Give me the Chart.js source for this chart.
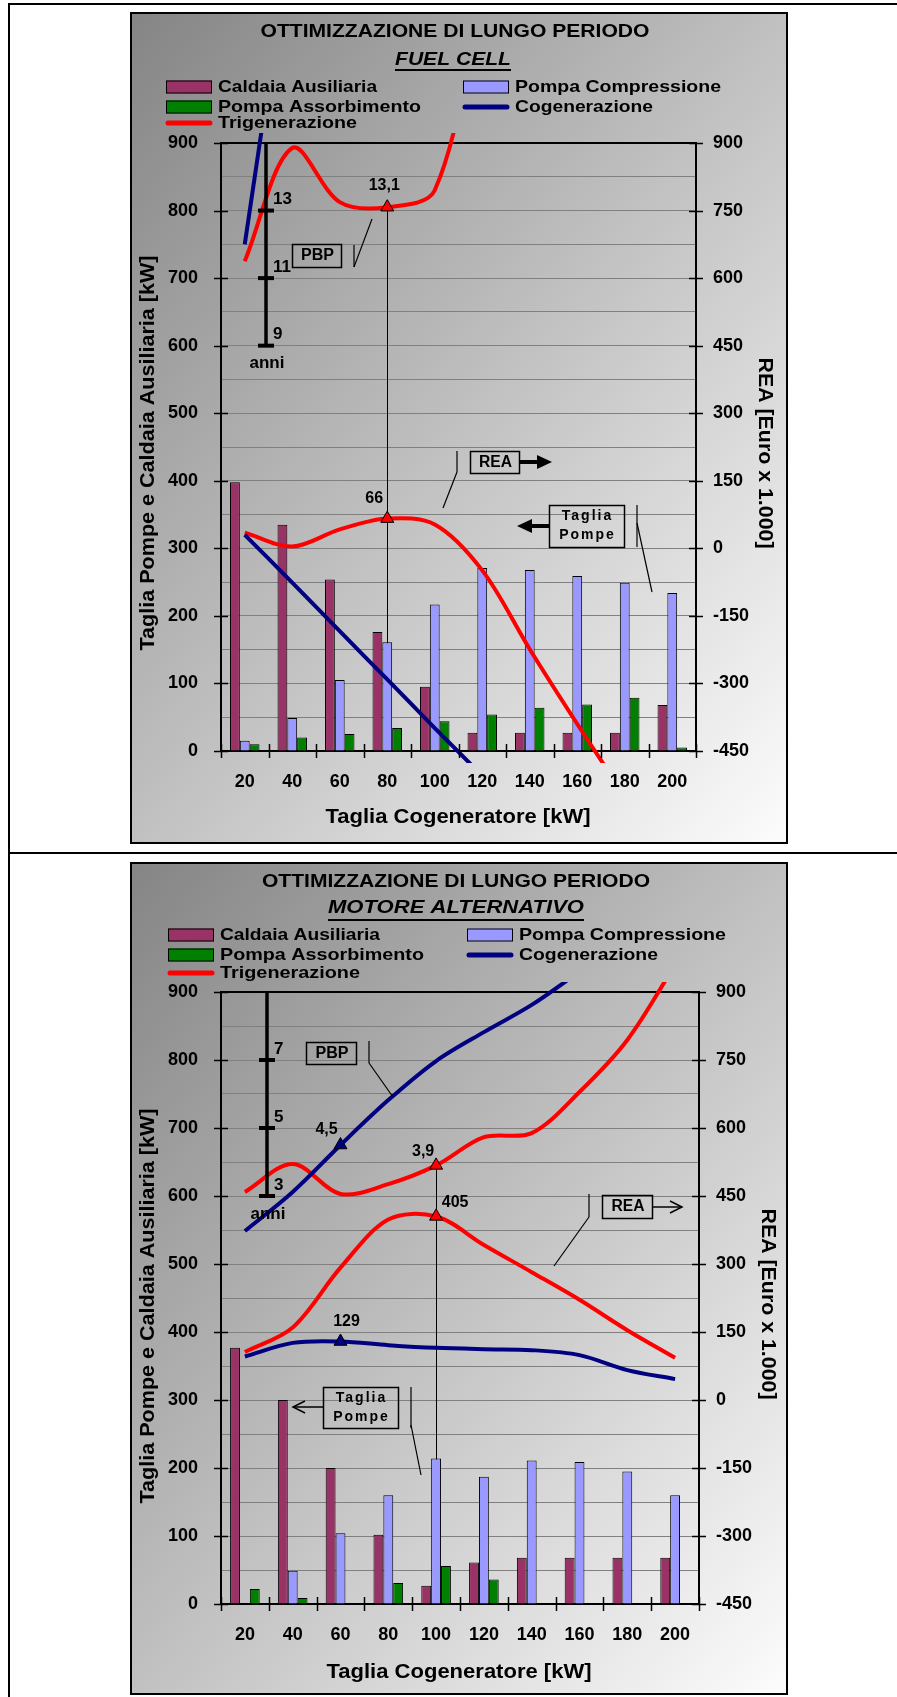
<!DOCTYPE html>
<html lang="it">
<head>
<meta charset="utf-8">
<title>Ottimizzazione di lungo periodo</title>
<script src="https://cdn.jsdelivr.net/npm/chart.js@4.4.1/dist/chart.umd.min.js"></script>
<style>
  html, body { margin: 0; padding: 0; background: #fff; }
  body { position: relative; width: 897px; height: 1697px; overflow: hidden; }
  .frame { position: absolute; left: 8px; top: 3px; width: 1000px; height: 1800px; border-left: 2px solid #000; border-top: 2px solid #000; }
  .divider { position: absolute; left: 8px; top: 852px; width: 1000px; height: 2px; background: #000; }
  .box { position: absolute; left: 130px; border: 2px solid #000; }
  .box canvas { display: block; }
</style>
</head>
<body>
<div class="frame"></div>
<div class="divider"></div>
<div class="box" style="top:12px"><canvas id="fuelCell" width="654" height="828"></canvas></div>
<div class="box" style="top:862px"><canvas id="motore" width="654" height="829"></canvas></div>

<script>
const FONT = "'Liberation Sans', Arial, Helvetica, sans-serif";
Chart.defaults.font.family = FONT;
Chart.defaults.color = '#000';

// taglia cogeneratore [kW]
const sizes = ['20', '40', '60', '80', '100', '120', '140', '160', '180', '200'];

// fuel cell: taglie pompe e caldaia [kW]
const fcCaldaia = [398, 335, 254, 176, 95, 27, 27, 27, 27, 68];
const fcCompressione = [15, 49, 105, 161, 217, 271, 268, 259, 249, 234];
const fcAssorbimento = [10, 20, 25, 34, 44, 54, 64, 69, 79, 5];
// fuel cell: REA [Euro x 1.000]
const fcReaCog = [30, -76, -184, -291, -399, -505, null, null, null, null];
const fcReaTrig = [35, 4, 42, 66, 53, -49, -224, -390, -550, null];
// fuel cell: PBP [anni]
const fcPbpCog = [12.0, 21.5, null, null, null, null, null, null, null, null];
const fcPbpTrig = [11.5, 14.85, 13.25, 13.1, 13.6, 19.5, null, null, null, null];
const fcAnni = [9, 11, 13];

// motore alternativo: taglie pompe e caldaia [kW]
const maCaldaia = [377, 300, 200, 102, 27, 61, 68, 68, 68, 68];
const maCompressione = [0, 49, 104, 160, 214, 187, 211, 209, 195, 160];
const maAssorbimento = [22, 9, 0, 31, 56, 36, 0, 0, 0, 0];
// motore alternativo: REA [Euro x 1.000]
const maReaCog = [96, 126, 129, 121, 115, 112, 110, 99, 66, 46];
const maReaTrig = [106, 160, 292, 398, 405, 342, 282, 221, 154, 93];
// motore alternativo: PBP [anni]
const maPbpCog = [1.97, 3.12, 4.5, 5.82, 6.97, 7.82, 8.62, 9.6, null, null];
const maPbpTrig = [3.12, 3.94, 3.06, 3.35, 3.9, 4.73, 4.85, 6.06, 7.59, 9.8];
const maAnni = [3, 5, 7];

const PURPLE = '#993366', LILAC = '#9999FF', GREEN = '#008000', NAVY = '#000080', RED = '#FF0000';

function drawText(ctx, text, x, y, o) {
  ctx.save();
  ctx.font = o.font + ' ' + FONT;
  if (o.spacing) ctx.letterSpacing = o.spacing + 'px';
  ctx.textAlign = o.align || 'center';
  ctx.textBaseline = 'middle';
  ctx.fillStyle = '#000';
  ctx.translate(x, y);
  if (o.rotate) ctx.rotate(o.rotate);
  if (o.width) ctx.scale(o.width / ctx.measureText(text).width, 1);
  ctx.fillText(text, 0, 0);
  ctx.restore();
}

function seg(ctx, x1, y1, x2, y2, w) {
  ctx.lineWidth = w;
  ctx.beginPath();
  ctx.moveTo(x1, y1);
  ctx.lineTo(x2, y2);
  ctx.stroke();
}

function arrow(ctx, x1, y1, x2, y2, heavy) {
  const a = Math.atan2(y2 - y1, x2 - x1);
  ctx.save();
  ctx.strokeStyle = '#000';
  ctx.fillStyle = '#000';
  if (heavy) {
    seg(ctx, x1, y1, x2 - 12 * Math.cos(a), y2 - 12 * Math.sin(a), 4);
    ctx.translate(x2, y2);
    ctx.rotate(a);
    ctx.beginPath();
    ctx.moveTo(0, 0);
    ctx.lineTo(-15, -7);
    ctx.lineTo(-15, 7);
    ctx.closePath();
    ctx.fill();
  } else {
    seg(ctx, x1, y1, x2, y2, 1.5);
    ctx.translate(x2, y2);
    ctx.rotate(a);
    ctx.lineWidth = 1.5;
    ctx.beginPath();
    ctx.moveTo(-12, -6);
    ctx.lineTo(0, 0);
    ctx.lineTo(-12, 6);
    ctx.stroke();
  }
  ctx.restore();
}

const decorations = {
  id: 'decorations',
  beforeDraw(chart) {
    const { ctx, width, height } = chart;
    ctx.save();
    ctx.scale(width, height);
    const g = ctx.createLinearGradient(0, 0, 1, 1);
    g.addColorStop(0, '#858585');
    g.addColorStop(1, '#fcfcfc');
    ctx.fillStyle = g;
    ctx.fillRect(0, 0, 1, 1);
    ctx.restore();
  },
  beforeDatasetsDraw(chart, args, s) {
    const { ctx, chartArea: area } = chart;
    const p = chart.getDatasetMeta(s.drop.ds).data[s.drop.i];
    ctx.save();
    ctx.strokeStyle = '#000';
    seg(ctx, Math.round(p.x) + 0.5, p.y, Math.round(p.x) + 0.5, area.bottom, 1);
    ctx.restore();
  },
  afterDraw(chart, args, s) {
    const { ctx, chartArea: area } = chart;
    const xs = chart.scales.x, yl = chart.scales.y, yr = chart.scales.y1, yp = chart.scales.yp;
    ctx.save();
    ctx.strokeStyle = '#000';
    ctx.fillStyle = '#000';

    // titolo
    drawText(ctx, s.title, s.titleX, s.titleY, { font: 'bold 18px', width: s.titleW });
    drawText(ctx, s.sub, s.subX, s.subY, { font: 'italic bold 18px', width: s.subW });
    ctx.fillRect(s.subX - s.subW / 2, s.underY - 1, s.subW, 2);

    // legenda a due colonne
    const seen = new Set();
    const entries = chart.data.datasets.filter(d => !seen.has(d.label) && seen.add(d.label));
    entries.forEach((d, k) => {
      const x = s.legendX[k % 2], y = s.legendY[Math.floor(k / 2)];
      if (d.type === 'bar') {
        ctx.fillStyle = d.backgroundColor;
        ctx.fillRect(x, y - 6.5, 46, 13);
        ctx.lineWidth = 1;
        ctx.strokeRect(x + 0.5, y - 6, 45, 12);
      } else {
        ctx.save();
        ctx.strokeStyle = d.borderColor;
        ctx.lineCap = 'round';
        seg(ctx, x + 2, y, x + 44, y, 5);
        ctx.restore();
      }
      drawText(ctx, d.label, x + 52, y, { font: 'bold 17px', width: s.legendW[k], align: 'left' });
    });

    // titoli degli assi
    drawText(ctx, 'Taglia Cogeneratore [kW]', s.xTitle[0], s.xTitle[1], { font: 'bold 20px', width: 265 });
    drawText(ctx, 'Taglia Pompe e Caldaia Ausiliaria [kW]', s.yTitle[0], s.yTitle[1], { font: 'bold 20px', width: 395, rotate: -Math.PI / 2 });
    drawText(ctx, 'REA [Euro x 1.000]', s.rTitle[0], s.rTitle[1], { font: 'bold 20px', width: 191, rotate: Math.PI / 2 });

    // tacche a cavallo degli assi
    ctx.strokeStyle = '#000';
    ctx.lineWidth = 1.5;
    ctx.beginPath();
    yl.ticks.forEach(t => {
      if (t.value % 100 !== 0) return;
      const y = Math.round(yl.getPixelForValue(t.value)) + 0.5;
      ctx.moveTo(area.left - 7, y);
      ctx.lineTo(area.left + 7, y);
    });
    yr.ticks.forEach(t => {
      const y = Math.round(yr.getPixelForValue(t.value)) + 0.5;
      ctx.moveTo(area.right - 7, y);
      ctx.lineTo(area.right + 7, y);
    });
    for (let i = 0; i <= sizes.length; i++) {
      const x = Math.round(xs.getPixelForValue(i - 0.5)) + 0.5;
      ctx.moveTo(x, area.bottom - 7);
      ctx.lineTo(x, area.bottom + 7);
    }
    ctx.stroke();

    // scala anni del PBP
    const ax = area.left + s.anniDx;
    const yLow = yp.getPixelForValue(s.anni[0]);
    seg(ctx, ax, area.top, ax, yLow, 3.5);
    s.anni.forEach(v => {
      const y = yp.getPixelForValue(v);
      seg(ctx, ax - 8, y, ax + 8, y, 4);
      drawText(ctx, String(v), ax + 7, y - 11, { font: 'bold 17px', align: 'left' });
    });
    drawText(ctx, 'anni', ax + 1, yLow + 18, { font: 'bold 17px' });

    // riquadri con richiamo
    s.callouts.forEach(c => {
      ctx.strokeStyle = '#000';
      ctx.lineWidth = 1.5;
      ctx.strokeRect(c.x + 0.5, c.y + 0.5, c.w, c.h);
      c.lines.forEach((t, k) => drawText(ctx, t, c.x + c.w / 2 + 1, c.y + c.ty[k], { font: c.font, width: c.tw && c.tw[k], spacing: c.spacing }));
      c.leader.forEach(l => seg(ctx, l[0], l[1], l[2], l[3], 1.2));
      if (c.arrow) arrow(ctx, c.arrow[0], c.arrow[1], c.arrow[2], c.arrow[3], c.heavy);
    });

    // valori dei punti evidenziati
    s.marks.forEach(m => {
      const p = chart.getDatasetMeta(m.ds).data[m.i];
      const v = chart.data.datasets[m.ds].data[m.i];
      drawText(ctx, String(v).replace('.', ','), p.x + m.dx, p.y + m.dy, { font: 'bold 16px' });
    });
    ctx.restore();
  }
};

function buildChart(id, s) {
  const canvas = document.getElementById(id);
  const W = canvas.width, H = canvas.height;
  const marked = new Set(s.marks.map(m => m.ds + ':' + m.i));

  const bar = (label, data, color) => ({
    type: 'bar', label, data, yAxisID: 'y', order: 2,
    backgroundColor: color, borderColor: '#000', borderWidth: 1,
    categoryPercentage: 0.62, barPercentage: 1
  });
  const line = (label, data, color, axis) => ({
    type: 'line', label, data, yAxisID: axis, order: 1,
    borderColor: color, backgroundColor: color, borderWidth: 4,
    tension: 0.33, pointStyle: 'triangle',
    pointBackgroundColor: color, pointBorderColor: '#000', pointBorderWidth: 1,
    clip: { left: 0, top: 10, right: 0, bottom: 12 }
  });

  const datasets = [
    bar('Caldaia Ausiliaria', s.caldaia, PURPLE),
    bar('Pompa Compressione', s.compressione, LILAC),
    bar('Pompa Assorbimento', s.assorbimento, GREEN),
    line('Cogenerazione', s.reaCog, NAVY, 'y1'),
    line('Trigenerazione', s.reaTrig, RED, 'y1'),
    line('Cogenerazione', s.pbpCog, NAVY, 'yp'),
    line('Trigenerazione', s.pbpTrig, RED, 'yp')
  ];
  datasets.forEach((d, k) => {
    if (d.type === 'line') d.pointRadius = d.data.map((_, i) => marked.has(k + ':' + i) ? 7.5 : 0);
  });

  const tickFont = { size: 18, weight: 'bold' };

  return new Chart(canvas, {
    data: { labels: sizes, datasets },
    plugins: [decorations],
    options: {
      responsive: false,
      animation: false,
      devicePixelRatio: 1,
      events: [],
      layout: { padding: { top: s.plot.top, left: 0, right: 0, bottom: 0 } },
      elements: { line: { capBezierPoints: false } },
      plugins: {
        legend: { display: false },
        tooltip: { enabled: false },
        decorations: s
      },
      scales: {
        x: {
          type: 'category', offset: true,
          grid: { display: false, drawTicks: false },
          border: { color: '#000', width: 2 },
          ticks: { font: tickFont, color: '#000', padding: 20, maxRotation: 0, autoSkip: false },
          afterFit: sc => { sc.height = H - s.plot.bottom; }
        },
        y: {
          position: 'left', min: 0, max: 900,
          grid: {
            color: c => c.tick.value === 900 ? '#000' : '#808080',
            lineWidth: c => c.tick.value === 900 ? 2 : 1,
            drawTicks: false
          },
          border: { color: '#000', width: 2 },
          ticks: {
            stepSize: 50, autoSkip: false, padding: 23, font: tickFont, color: '#000',
            callback: v => v % 100 === 0 ? v : ''
          },
          afterFit: sc => { sc.width = s.plot.left; }
        },
        y1: {
          position: 'right', min: -450, max: 900,
          grid: { drawOnChartArea: false, drawTicks: false },
          border: { color: '#000', width: 2 },
          ticks: { stepSize: 150, autoSkip: false, padding: 17, font: tickFont, color: '#000' },
          afterFit: sc => { sc.width = W - s.plot.right; }
        },
        yp: { display: false, min: s.pbpMin, max: s.pbpMax }
      }
    }
  });
}

buildChart('fuelCell', {
  caldaia: fcCaldaia, compressione: fcCompressione, assorbimento: fcAssorbimento,
  reaCog: fcReaCog, reaTrig: fcReaTrig, pbpCog: fcPbpCog, pbpTrig: fcPbpTrig,
  pbpMin: -3, pbpMax: 15, anni: fcAnni, anniDx: 45,
  plot: { left: 89, top: 129, right: 564, bottom: 737 },
  title: 'OTTIMIZZAZIONE DI LUNGO PERIODO', titleX: 323, titleY: 18, titleW: 389,
  sub: 'FUEL CELL', subX: 321, subY: 46, subW: 116, underY: 56,
  legendX: [34, 331], legendY: [73, 93, 109], legendW: [159, 206, 203, 138, 139],
  xTitle: [326, 803], yTitle: [16, 439], rTitle: [633, 439],
  marks: [
    { ds: 6, i: 3, dx: -3, dy: -22 },
    { ds: 4, i: 3, dx: -13, dy: -20 }
  ],
  drop: { ds: 6, i: 3 },
  callouts: [
    { x: 160, y: 230, w: 49, h: 23, lines: ['PBP'], ty: [12], tw: [33], font: 'bold 16px',
      leader: [[222, 231, 222, 253], [222, 253, 240, 205]] },
    { x: 338, y: 437, w: 49, h: 22, lines: ['REA'], ty: [11.5], tw: [33], font: 'bold 16px',
      leader: [[325, 437, 325, 458], [325, 458, 311, 494]], arrow: [387, 448, 420, 448], heavy: true },
    { x: 417, y: 491, w: 75, h: 42, lines: ['Taglia', 'Pompe'], ty: [11.5, 30.5], font: 'bold 14px', spacing: 2,
      leader: [[505, 491, 505, 533], [505, 509, 520, 578]], arrow: [417, 512, 385, 512], heavy: true }
  ]
});

buildChart('motore', {
  caldaia: maCaldaia, compressione: maCompressione, assorbimento: maAssorbimento,
  reaCog: maReaCog, reaTrig: maReaTrig, pbpCog: maPbpCog, pbpTrig: maPbpTrig,
  pbpMin: -9, pbpMax: 9, anni: maAnni, anniDx: 46,
  plot: { left: 89, top: 128, right: 567, bottom: 740 },
  title: 'OTTIMIZZAZIONE DI LUNGO PERIODO', titleX: 324, titleY: 18, titleW: 388,
  sub: 'MOTORE ALTERNATIVO', subX: 324, subY: 44, subW: 256, underY: 56,
  legendX: [36, 335], legendY: [71, 91, 109], legendW: [160, 207, 204, 139, 140],
  xTitle: [327, 808], yTitle: [16, 442], rTitle: [636, 440],
  marks: [
    { ds: 5, i: 2, dx: -14, dy: -15 },
    { ds: 6, i: 4, dx: -13, dy: -14 },
    { ds: 4, i: 4, dx: 19, dy: -14 },
    { ds: 3, i: 2, dx: 6, dy: -20 }
  ],
  drop: { ds: 6, i: 4 },
  callouts: [
    { x: 174, y: 178, w: 50, h: 22, lines: ['PBP'], ty: [11.5], tw: [33], font: 'bold 16px',
      leader: [[237, 177, 237, 199], [237, 199, 261, 233]] },
    { x: 470, y: 331, w: 50, h: 23, lines: ['REA'], ty: [12], tw: [33], font: 'bold 16px',
      leader: [[457, 330, 457, 353], [457, 353, 422, 402]], arrow: [520, 343, 550, 343], heavy: false },
    { x: 191, y: 523, w: 75, h: 41, lines: ['Taglia', 'Pompe'], ty: [11.5, 30.5], font: 'bold 14px', spacing: 2,
      leader: [[279, 523, 279, 564], [279, 561, 289, 611]], arrow: [191, 543, 161, 543], heavy: false }
  ]
});
</script>
</body>
</html>
